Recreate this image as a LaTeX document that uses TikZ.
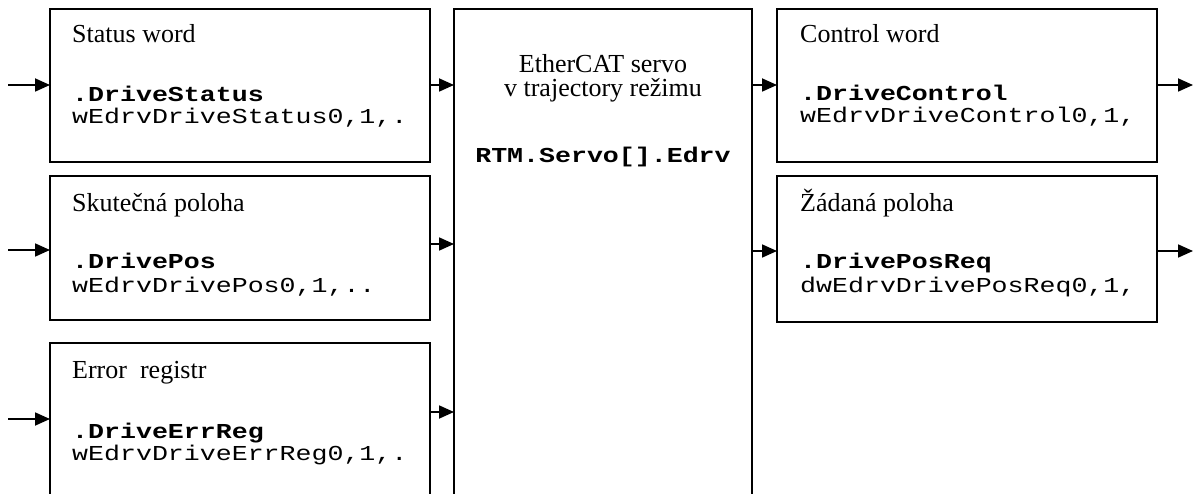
\documentclass[tikz,border=0pt]{standalone}
\usepackage{fontspec}
\setmainfont{Liberation Serif}
\setmonofont{Liberation Mono}
\usetikzlibrary{arrows.meta}
\newcommand\rmsz{\rmfamily\fontsize{26}{30}\selectfont}
\newcommand\ttsz{\ttfamily\fontsize{26.6}{30}\selectfont}
\newcommand\mt[1]{\scalebox{1}[0.8]{#1}}
\begin{document}
\begin{tikzpicture}[x=1pt,y=-1pt,
  box/.style={draw=black, line width=1.8pt, inner sep=0pt, outer sep=0pt, fill=none},
  lbl/.style={anchor=base west, inner sep=0pt, font=\rmsz},
  mono/.style={anchor=base west, inner sep=0pt, font=\ttsz},
  monob/.style={anchor=base west, inner sep=0pt, font=\ttsz\bfseries},
  ctxt/.style={anchor=base, inner sep=0pt, font=\rmsz},
  arr/.style={line width=1.8pt, -{Triangle[length=15pt,width=13pt]}}]
\useasboundingbox (0,0) rectangle (1193,494);
\clip (0,0) rectangle (1193,494);
\fill[white] (0,0) rectangle (1193,494);
% boxes
\node[box, minimum width=380pt, minimum height=153pt] (sw) at (240,85.5) {};
\node[box, minimum width=380pt, minimum height=144pt] (sp) at (240,248) {};
\node[box, minimum width=380pt, minimum height=180pt] (er) at (240,433) {};
\node[box, minimum width=298pt, minimum height=520pt] (ctr) at (603,269) {};
\node[box, minimum width=380pt, minimum height=153pt] (cw) at (967,85.5) {};
\node[box, minimum width=380pt, minimum height=146pt] (zp) at (967,249) {};
% texts left
\node[lbl] (t1) at (72,43) {Status word};
\node[monob] (t2) at (72,102) {\mt{.DriveStatus}};
\node[mono] (t3) at (72,124) {\mt{wEdrvDriveStatus0,1,.}};
\node[lbl] (t4) at (72,212) {Skutečná poloha};
\node[monob] (t5) at (72,269) {\mt{.DrivePos}};
\node[mono] (t6) at (72,292) {\mt{wEdrvDrivePos0,1,..}};
\node[lbl] (t7) at (72,378) {Error\ \ registr};
\node[monob] (t8) at (72,438) {\mt{.DriveErrReg}};
\node[mono] (t9) at (72,460) {\mt{wEdrvDriveErrReg0,1,.}};
% center
\node[ctxt] (c1) at (603,73) {EtherCAT servo};
\node[ctxt] (c2) at (603,97) {v trajectory režimu};
\node[ctxt, font=\ttsz\bfseries] (c3) at (603,163) {\mt{RTM.Servo[].Edrv}};
% right
\node[lbl] (r1) at (800,43) {Control word};
\node[monob] (r2) at (800,101) {\mt{.DriveControl}};
\node[mono] (r3) at (800,123) {\mt{wEdrvDriveControl0,1,}};
\node[lbl] (r4) at (800,212) {Žádaná poloha};
\node[monob] (r5) at (800,269) {\mt{.DrivePosReq}};
\node[mono] (r6) at (800,292) {\mt{dwEdrvDrivePosReq0,1,}};
% connectors
\coordinate (in1) at (8,85);
\coordinate (in2) at (8,250);
\coordinate (in3) at (8,419);
\coordinate (m2) at (0,244);
\coordinate (m3) at (0,412);
\coordinate (out1) at (1193,85);
\coordinate (out2) at (1193,251);
\draw[arr] (in1) -- (sw.west |- in1);
\draw[arr] (in2) -- (sp.west |- in2);
\draw[arr] (in3) -- (er.west |- in3);
\draw[arr] (sw.east |- in1) -- (ctr.west |- in1);
\draw[arr] (sp.east |- m2) -- (ctr.west |- m2);
\draw[arr] (er.east |- m3) -- (ctr.west |- m3);
\draw[arr] (ctr.east |- out1) -- (cw.west |- out1);
\draw[arr] (ctr.east |- out2) -- (zp.west |- out2);
\draw[arr] (cw.east |- out1) -- (out1);
\draw[arr] (zp.east |- out2) -- (out2);
\end{tikzpicture}
\end{document}
